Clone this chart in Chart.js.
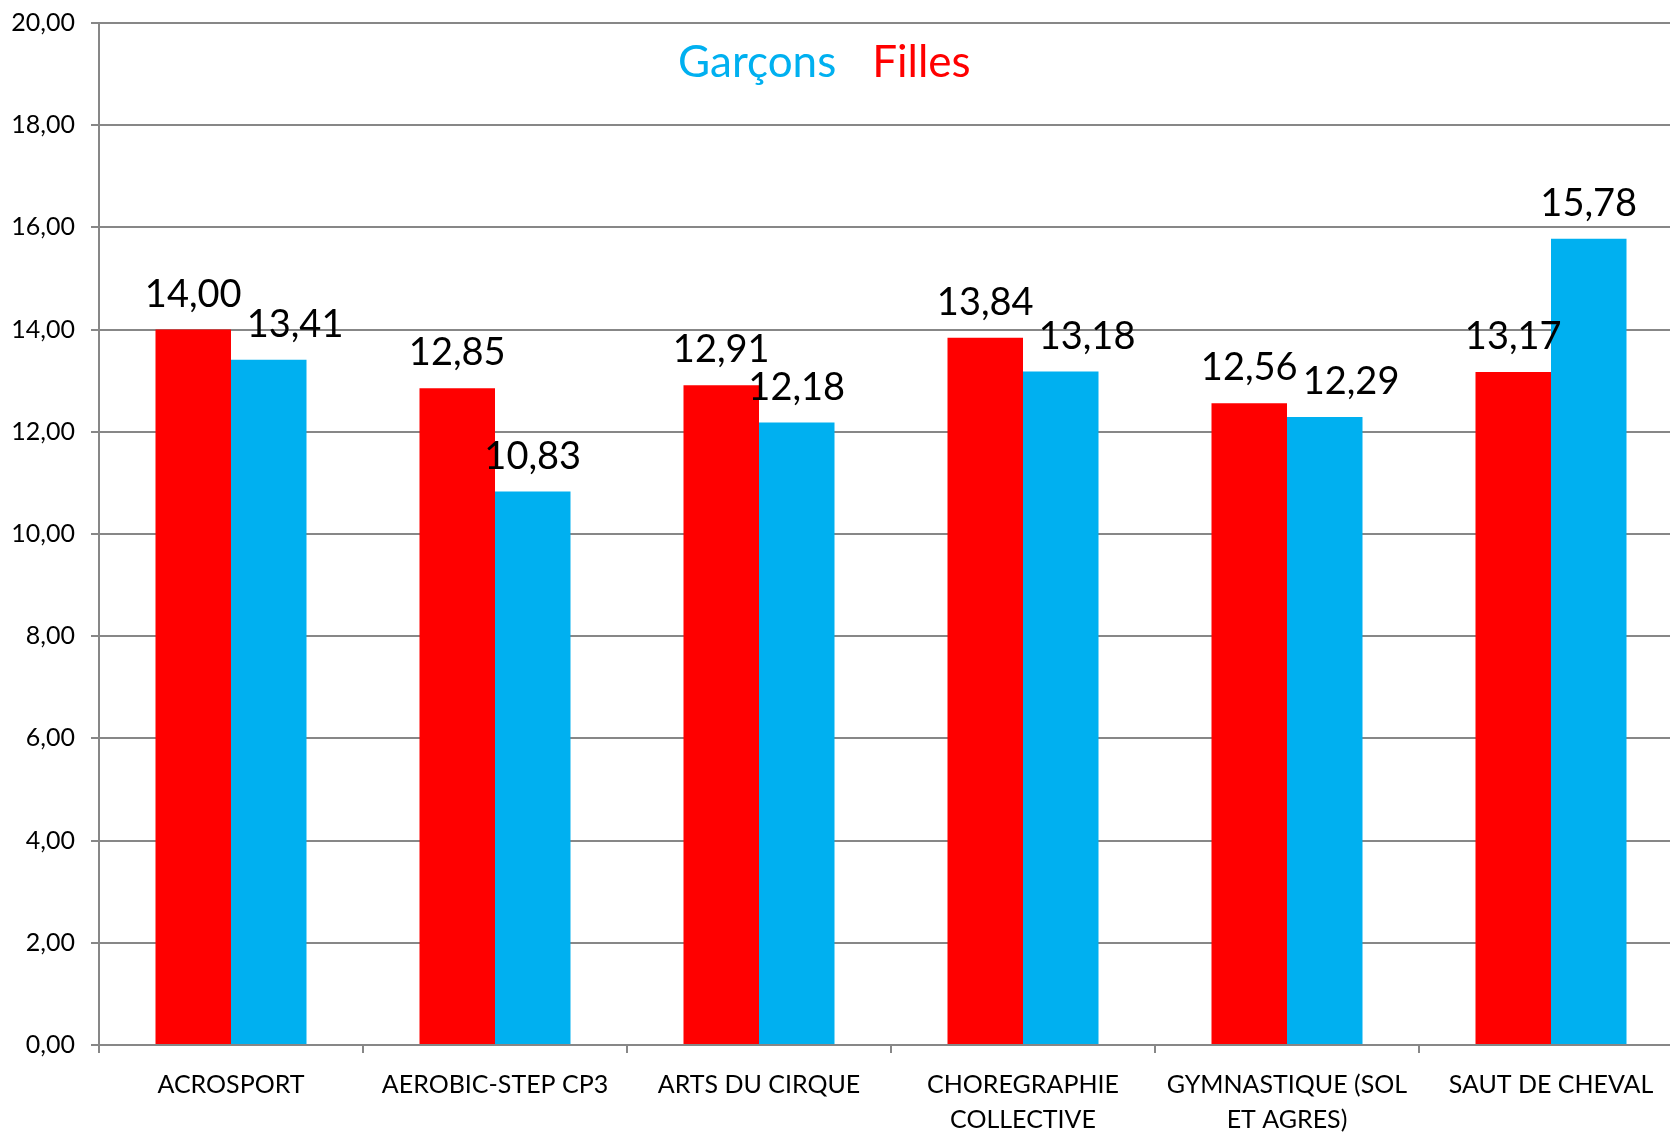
<!DOCTYPE html>
<html>
<head>
<meta charset="utf-8">
<script src="https://cdn.jsdelivr.net/npm/chart.js@4/dist/chart.umd.min.js"></script>
<style>
    html, body { margin: 0; padding: 0; background: #fff; overflow: hidden; }
    #wrap { position: relative; width: 1700px; height: 1133px; }
</style>
</head>
<body>
<div id="wrap"><canvas id="notesChart"></canvas></div>
<script>
    // Data
    const categories = ['ACROSPORT', 'AEROBIC-STEP CP3', 'ARTS DU CIRQUE', ['CHOREGRAPHIE', 'COLLECTIVE'], ['GYMNASTIQUE (SOL', 'ET AGRES)'], 'SAUT DE CHEVAL'];
    const filles = [14.00, 12.85, 12.91, 13.84, 12.56, 13.17];
    const garcons = [13.41, 10.83, 12.18, 13.18, 12.29, 15.78];
    const yTicks = [0, 2, 4, 6, 8, 10, 12, 14, 16, 18, 20];

    const fr = v => v.toFixed(2).replace('.', ',');
    const GRID = '#878787';

    // value labels above each bar; the second label slides right if it would crowd the first
    const valueLabels = {
        id: 'valueLabels',
        afterDatasetsDraw(chart) {
            const ctx = chart.ctx;
            ctx.save();
            ctx.font = '38px Lato';
            ctx.fillStyle = '#000';
            ctx.textAlign = 'center';
            ctx.textBaseline = 'alphabetic';
            const h = 36;
            const first = chart.getDatasetMeta(0).data;
            chart.data.datasets.forEach((ds, i) => {
                chart.getDatasetMeta(i).data.forEach((bar, j) => {
                    const txt = fr(ds.data[j]);
                    let x = bar.x;
                    const y = bar.y - 23;
                    if (i > 0) {
                        const prev = first[j];
                        const pw = ctx.measureText(fr(chart.data.datasets[0].data[j])).width;
                        const w = ctx.measureText(txt).width;
                        const py = prev.y - 23;
                        const prevRight = prev.x + pw / 2;
                        if (Math.abs(py - y) < h && x - w / 2 < prevRight + 4) {
                            x = prevRight + 5 + w / 2;
                        }
                    }
                    ctx.fillText(txt, x, y);
                });
            });
            ctx.restore();
        }
    };

    // text-only legend inside the plot (Garçons first)
    const textLegend = {
        id: 'textLegend',
        afterDraw(chart) {
            const ctx = chart.ctx;
            ctx.save();
            ctx.font = '44px Lato';
            ctx.textBaseline = 'alphabetic';
            ctx.textAlign = 'left';
            let x = chart.chartArea.left + 579;
            const y = chart.chartArea.top + 54;
            chart.data.datasets.slice().reverse().forEach(ds => {
                ctx.fillStyle = ds.backgroundColor;
                ctx.fillText(ds.label, x, y);
                x += ctx.measureText(ds.label).width + 36;
            });
            ctx.restore();
        }
    };

    const ctx = document.getElementById('notesChart').getContext('2d');
    new Chart(ctx, {
        type: 'bar',
        data: {
            labels: categories,
            datasets: [
                { label: 'Filles', data: filles, backgroundColor: '#ff0000', categoryPercentage: 0.572, barPercentage: 1 },
                { label: 'Garçons', data: garcons, backgroundColor: '#00b0f0', categoryPercentage: 0.572, barPercentage: 1 }
            ]
        },
        options: {
            responsive: true,
            maintainAspectRatio: false,
            animation: false,
            layout: { padding: { top: 23, right: 17, left: 0, bottom: 0 } },
            plugins: { legend: { display: false }, tooltip: { enabled: false } },
            scales: {
                x: {
                    afterFit: s => { s.height = 88; s.paddingLeft = 0; s.paddingRight = 0; },
                    grid: { drawOnChartArea: false, drawTicks: true, tickLength: 8, color: GRID, lineWidth: 2, offset: true },
                    border: { display: true, color: GRID, width: 2 },
                    ticks: { color: '#000', font: { family: 'Lato', size: 25, lineHeight: 1.4 }, maxRotation: 0, autoSkip: false, padding: 14 }
                },
                y: {
                    min: 0,
                    max: 20,
                    afterFit: s => { s.width = 99; s.paddingTop = 0; s.paddingBottom = 0; },
                    afterBuildTicks: s => { s.ticks = yTicks.map(v => ({ value: v })); },
                    grid: { color: GRID, lineWidth: 2, tickLength: 8 },
                    border: { display: true, color: GRID, width: 2 },
                    ticks: { color: '#000', font: { family: 'Lato', size: 25 }, padding: 16, callback: v => fr(v) }
                }
            }
        },
        plugins: [valueLabels, textLegend]
    });
</script>
</body>
</html>
